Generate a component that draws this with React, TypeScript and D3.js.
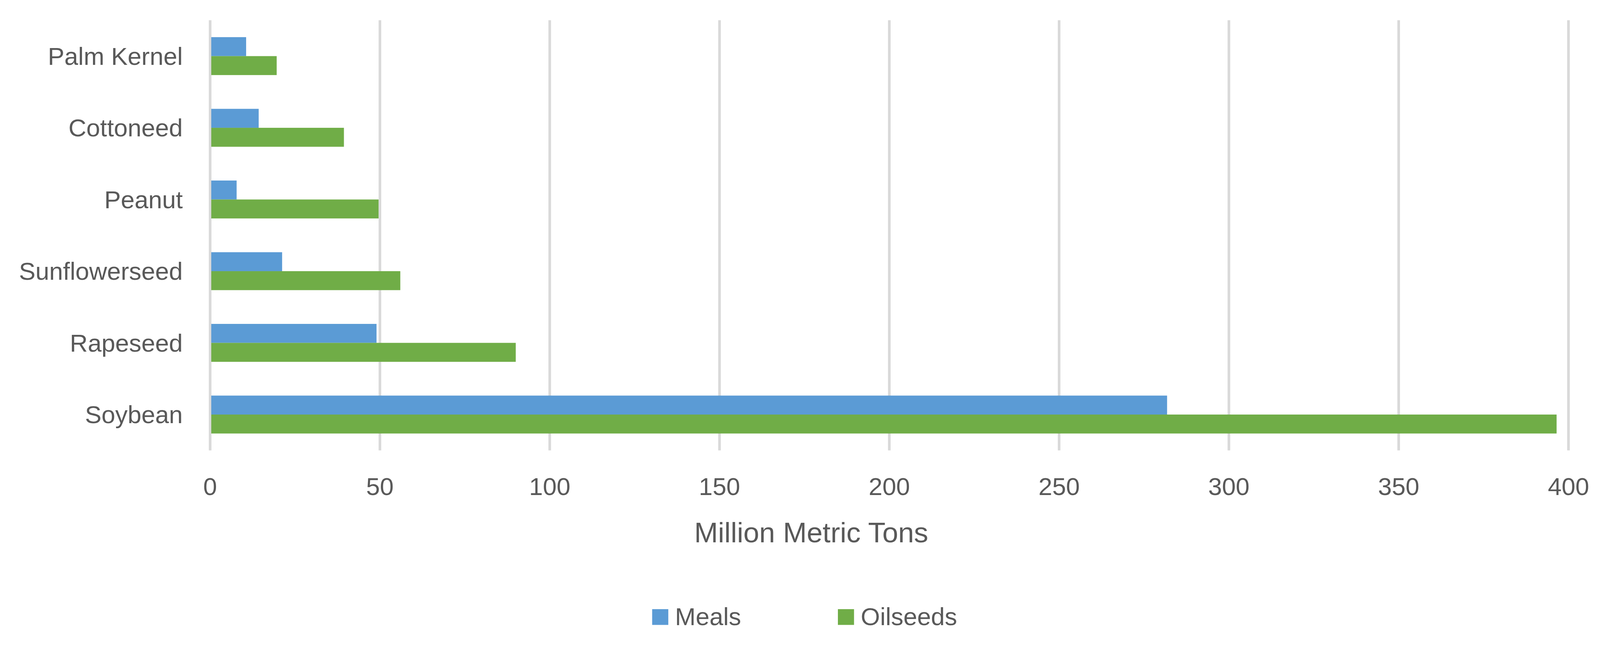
import React, { useEffect, useRef } from 'react';
import * as d3 from 'd3';

// categories listed bottom to top, as in the source sheet
const categories = ['Soybean', 'Rapeseed', 'Sunflowerseed', 'Peanut', 'Cottoneed', 'Palm Kernel'];
const seriesNames = ['Meals', 'Oilseeds'];
const meals = [281.8, 49.0, 21.2, 7.8, 14.3, 10.6];
const oilseeds = [396.5, 90.0, 56.0, 49.6, 39.4, 19.6];
const xTicks = [0, 50, 100, 150, 200, 250, 300, 350, 400];
const axisTitle = 'Million Metric Tons';

const colors: Record<string, string> = { Meals: '#5B9BD5', Oilseeds: '#70AD47' };
const FONT = "'Liberation Sans', Arial, sans-serif";
const TEXT = '#595959';

const W = 4264;
const H = 1702;

export default function App() {
  const svgRef = useRef<SVGSVGElement>(null);

  useEffect(() => {
    if (!svgRef.current) return;
    document.body.style.margin = '0';
    document.body.style.overflow = 'hidden';
    d3.select(svgRef.current).selectAll('*').remove();

    const plot = { left: 560, right: 4180, top: 54, bottom: 1200 };

    const svg = d3.select(svgRef.current)
      .attr('viewBox', `0 0 ${W} ${H}`)
      .attr('preserveAspectRatio', 'xMinYMin meet')
      .style('font-family', FONT);

    svg.append('rect').attr('width', W).attr('height', H).attr('fill', '#fff');

    const x = d3.scaleLinear().domain([0, 400]).range([plot.left, plot.right]);

    const y = d3.scaleBand<string>()
      .domain(categories)
      .range([plot.bottom, plot.top])
      .paddingInner(0.471)
      .paddingOuter(0.2355);

    const ySub = d3.scaleBand<string>()
      .domain(seriesNames)
      .range([0, y.bandwidth()]);

    // gridlines
    svg.append('g')
      .selectAll('line')
      .data(xTicks)
      .join('line')
      .attr('x1', d => x(d))
      .attr('x2', d => x(d))
      .attr('y1', plot.top)
      .attr('y2', plot.bottom)
      .attr('stroke', '#D9D9D9')
      .attr('stroke-width', 7);

    // bars
    const rows = categories.map((c, i) => ({ cat: c, values: [meals[i], oilseeds[i]] }));
    const groups = svg.append('g')
      .selectAll('g')
      .data(rows)
      .join('g')
      .attr('transform', d => `translate(0,${y(d.cat)})`);

    groups.selectAll('rect')
      .data(d => d.values.map((v, j) => ({ name: seriesNames[j], v })))
      .join('rect')
      .attr('x', x(0) + 3)
      .attr('y', d => ySub(d.name)!)
      .attr('width', d => x(d.v) - x(0) - 3)
      .attr('height', ySub.bandwidth())
      .attr('fill', d => colors[d.name]);

    // category labels
    svg.append('g')
      .selectAll('text')
      .data(categories)
      .join('text')
      .attr('x', 487)
      .attr('y', d => y(d)! + y.bandwidth() / 2)
      .attr('dy', '0.35em')
      .attr('text-anchor', 'end')
      .attr('fill', TEXT)
      .style('font-size', '66px')
      .text(d => d);

    // x tick labels
    svg.append('g')
      .selectAll('text')
      .data(xTicks)
      .join('text')
      .attr('x', d => x(d))
      .attr('y', 1319)
      .attr('text-anchor', 'middle')
      .attr('fill', TEXT)
      .style('font-size', '66px')
      .text(d => d3.format('d')(d));

    // axis title
    svg.append('text')
      .attr('x', 2162)
      .attr('y', 1445)
      .attr('text-anchor', 'middle')
      .attr('fill', TEXT)
      .style('font-size', '76px')
      .text(axisTitle);

    // legend
    const legendX = [1738, 2233];
    const legend = svg.append('g')
      .selectAll('g')
      .data(seriesNames)
      .join('g')
      .attr('transform', (_, i) => `translate(${legendX[i]},1623)`);

    legend.append('rect')
      .attr('width', 43)
      .attr('height', 42)
      .attr('fill', d => colors[d]);

    legend.append('text')
      .attr('x', 61)
      .attr('y', 43)
      .attr('fill', TEXT)
      .style('font-size', '66px')
      .text(d => d);
  }, []);

  return (
    <svg
      ref={svgRef}
      style={{ position: 'fixed', left: 0, top: 0, width: '100vw', height: '100vh', display: 'block' }}
    ></svg>
  );
}
